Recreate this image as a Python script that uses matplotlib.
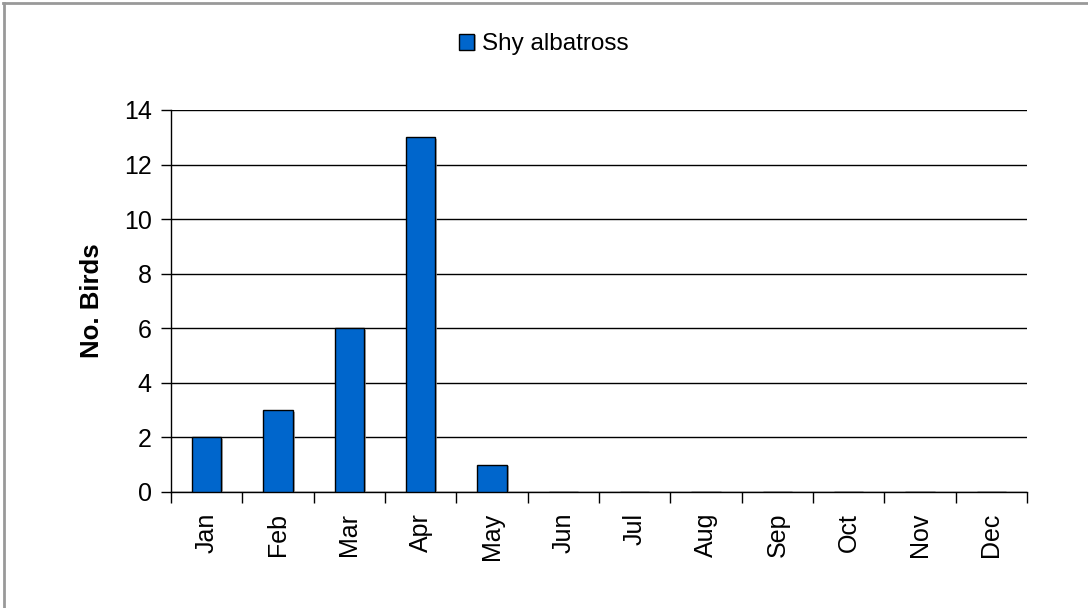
import matplotlib.pyplot as plt
import matplotlib.patheffects as pe
import numpy as np

plt.rcParams['font.family'] = ['Liberation Sans', 'DejaVu Sans']

# Monthly counts
months = ['Jan', 'Feb', 'Mar', 'Apr', 'May', 'Jun',
          'Jul', 'Aug', 'Sep', 'Oct', 'Nov', 'Dec']
shy_albatross = [2, 3, 6, 13, 1, 0, 0, 0, 0, 0, 0, 0]
y_ticks = [0, 2, 4, 6, 8, 10, 12, 14]

fig = plt.figure(figsize=(10.88, 6.08), dpi=100)
ax = fig.add_axes([0.1572, 0.1908, 0.7867, 0.6283])

x = np.arange(len(months))
bars = ax.bar(x, shy_albatross, width=0.41, color='#0066CC',
              edgecolor='black', linewidth=1.0, zorder=3,
              label='Shy albatross')
for b in bars:
    b.set_path_effects([pe.SimplePatchShadow(offset=(1.5, -1), shadow_rgbFace='#999999', alpha=0.8),
                        pe.Normal()])

ax.set_xlim(-0.5, 11.5)
ax.set_ylim(0, 14)
ax.set_yticks(y_ticks)
ax.tick_params(axis='y', labelsize=18, length=7, width=1, direction='out', pad=7)
ax.yaxis.grid(True, color='black', linewidth=1)
ax.set_axisbelow(True)

# category boundaries carry the ticks, labels sit in the middle
ax.set_xticks(np.arange(-0.5, 12, 1))
ax.set_xticklabels([])
ax.set_xticks(x, minor=True)
ax.set_xticklabels(months, minor=True, rotation=90, fontsize=18)
ax.tick_params(axis='x', which='major', length=8, width=1, direction='out')
ax.tick_params(axis='x', which='minor', length=0, pad=15)

for s in ['top', 'right']:
    ax.spines[s].set_visible(False)
ax.spines['left'].set_linewidth(1)
ax.spines['bottom'].set_linewidth(1)

ax.set_ylabel('No. Birds', fontsize=18.5, fontweight='bold', labelpad=14)

fig.legend(loc='center', bbox_to_anchor=(0.5, 0.927), frameon=False,
           fontsize=17.5, handlelength=0.6, handleheight=0.6, handletextpad=0.35)

# grey frame around the chart area
fig.add_artist(plt.Line2D([0.003, 1], [0.995, 0.995], color='#999999', linewidth=2))
fig.add_artist(plt.Line2D([0.004, 0.004], [0, 0.995], color='#999999', linewidth=2))

fig.savefig('out.png', dpi=100)
